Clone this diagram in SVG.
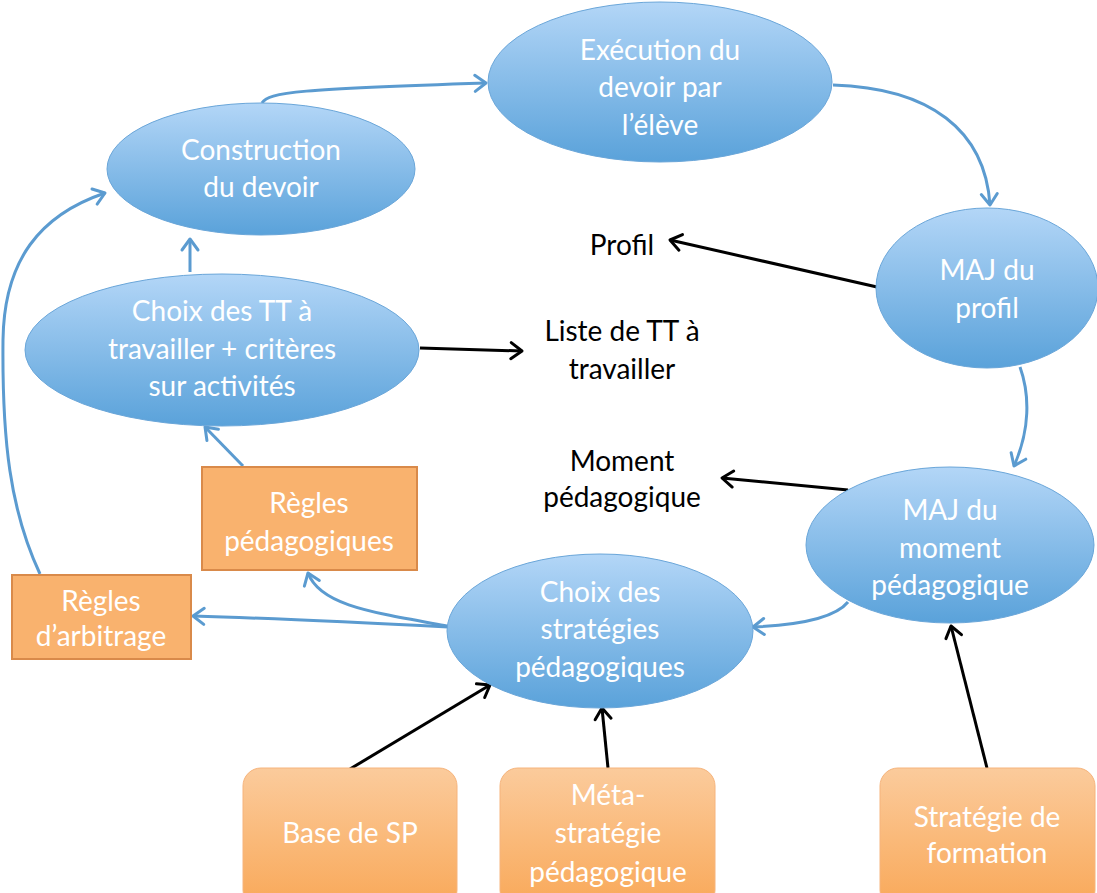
<svg xmlns="http://www.w3.org/2000/svg" width="1097" height="893" viewBox="0 0 1097 893">
<defs>
<linearGradient id="gb" x1="0" y1="0" x2="0" y2="1">
<stop offset="0" stop-color="#b3d6f7"/>
<stop offset="1" stop-color="#5aa2da"/>
</linearGradient>
<linearGradient id="go" x1="0" y1="0" x2="0" y2="1">
<stop offset="0" stop-color="#fbcb9c"/>
<stop offset="1" stop-color="#f9a858"/>
</linearGradient>
<marker id="ab" viewBox="-16 -12 20 24" refX="0" refY="0" markerWidth="20" markerHeight="24" markerUnits="userSpaceOnUse" orient="auto">
<path d="M-11,-8 L0,0 L-11,8" fill="none" stroke="#5b9bd0" stroke-width="3" stroke-linecap="round" stroke-linejoin="round"/>
</marker>
<marker id="ak" viewBox="-16 -12 20 24" refX="0" refY="0" markerWidth="20" markerHeight="24" markerUnits="userSpaceOnUse" orient="auto">
<path d="M-11,-8 L0,0 L-11,8" fill="none" stroke="#000" stroke-width="3" stroke-linecap="round" stroke-linejoin="round"/>
</marker>
</defs>
<style>
.el{fill:url(#gb);stroke:#6aa6d9;stroke-width:1}
.rr{fill:#f9b26e;stroke:#d98a4a;stroke-width:2}
.ro{fill:url(#go);stroke:#f6b47c;stroke-width:1}
.t{font-family:Lato,"Liberation Sans",sans-serif;font-size:28px;fill:#fff;text-anchor:middle}
.k{font-family:Lato,"Liberation Sans",sans-serif;font-size:28px;fill:#000;text-anchor:middle}
.cb{fill:none;stroke:#5b9bd0;stroke-width:3;marker-end:url(#ab)}
.ck{fill:none;stroke:#000;stroke-width:3;marker-end:url(#ak)}
</style>
<g id="connectors">
<path class="cb" d="M262,103 C268,92 300,89 486,83"/>
<path class="cb" d="M833,85 C930,88 985,130 990,205"/>
<path class="cb" d="M1020,367 C1030,395 1030,430 1014,466"/>
<path class="cb" d="M848,602 C835,618 800,625 753,627"/>
<path class="cb" d="M448,627 C350,622 260,618 193,616"/>
<path class="cb" d="M447,626 C370,612 320,605 308,573"/>
<path class="cb" d="M243,466 L205,427"/>
<path class="cb" d="M40,574 C10,510 2,440 3,340 C4,260 40,215 105,193"/>
<path class="cb" d="M190,272 L190,239"/>
<path class="ck" d="M877,287 L670,240"/>
<path class="ck" d="M420,348 L522,351"/>
<path class="ck" d="M848,490 L722,478"/>
<path class="ck" d="M350,769 L490,685"/>
<path class="ck" d="M608,768 L602,708"/>
<path class="ck" d="M987,768 L951,626"/>
</g>
<g id="construction">
<ellipse class="el" cx="261" cy="169" rx="154" ry="66"/>
<text class="t" x="261" y="160">Construction</text>
<text class="t" x="261" y="197">du devoir</text>
</g>
<g id="execution">
<ellipse class="el" cx="660" cy="82" rx="172" ry="80"/>
<text class="t" x="660" y="60">Exécution du</text>
<text class="t" x="660" y="97">devoir par</text>
<text class="t" x="660" y="135">l’élève</text>
</g>
<g id="maj-profil">
<ellipse class="el" cx="987" cy="288" rx="111" ry="80"/>
<text class="t" x="987" y="280">MAJ du</text>
<text class="t" x="987" y="318">profil</text>
</g>
<g id="choix-tt">
<ellipse class="el" cx="222" cy="350" rx="197" ry="76"/>
<text class="t" x="222" y="321">Choix des TT à</text>
<text class="t" x="222" y="359">travailler + critères</text>
<text class="t" x="222" y="396">sur activités</text>
</g>
<g id="maj-moment">
<ellipse class="el" cx="950" cy="545" rx="144" ry="78"/>
<text class="t" x="950" y="520">MAJ du</text>
<text class="t" x="950" y="558">moment</text>
<text class="t" x="950" y="595">pédagogique</text>
</g>
<g id="choix-strat">
<ellipse class="el" cx="600" cy="631" rx="153" ry="77"/>
<text class="t" x="600" y="602">Choix des</text>
<text class="t" x="600" y="639">stratégies</text>
<text class="t" x="600" y="677">pédagogiques</text>
</g>
<g id="regles-peda">
<rect class="rr" x="202" y="467" width="215" height="103"/>
<text class="t" x="309" y="513">Règles</text>
<text class="t" x="309" y="551">pédagogiques</text>
</g>
<g id="regles-arb">
<rect class="rr" x="12" y="575" width="179" height="84"/>
<text class="t" x="101" y="611">Règles</text>
<text class="t" x="101" y="646">d’arbitrage</text>
</g>
<g id="base-sp">
<rect class="ro" x="243" y="768" width="214" height="140" rx="18"/>
<text class="t" x="350" y="843">Base de SP</text>
</g>
<g id="meta">
<rect class="ro" x="500" y="768" width="215" height="140" rx="18"/>
<text class="t" x="608" y="805">Méta-</text>
<text class="t" x="608" y="843">stratégie</text>
<text class="t" x="608" y="882">pédagogique</text>
</g>
<g id="strat-formation">
<rect class="ro" x="880" y="768" width="215" height="140" rx="18"/>
<text class="t" x="987" y="827">Stratégie de</text>
<text class="t" x="987" y="863">formation</text>
</g>
<g id="labels">
<text class="k" x="622" y="255">Profil</text>
<text class="k" x="622" y="341">Liste de TT à</text>
<text class="k" x="622" y="379">travailler</text>
<text class="k" x="622" y="471">Moment</text>
<text class="k" x="622" y="507">pédagogique</text>
</g>
</svg>
